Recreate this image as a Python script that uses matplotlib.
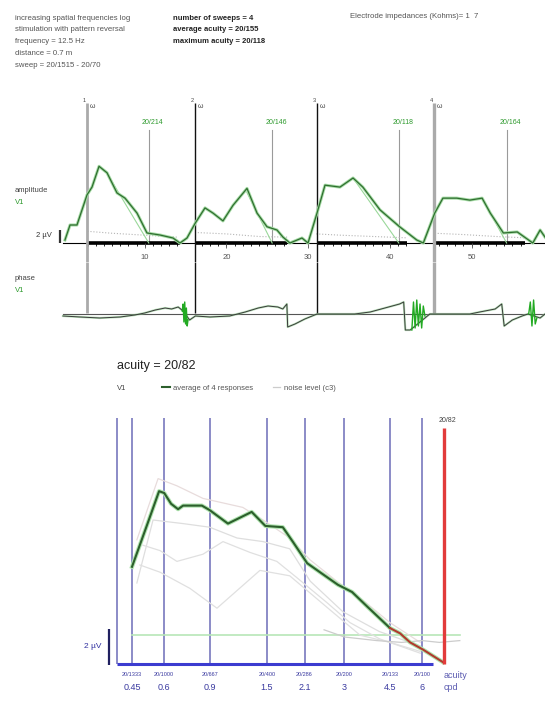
import numpy as np
import matplotlib
matplotlib.use("Agg")
import matplotlib.pyplot as plt

plt.rcParams['font.family'] = ['Liberation Sans', 'DejaVu Sans']

# --- DATA ---
# sweep record (time axis in s, amplitude in uV, phase in arbitrary units)
sweep_starts = [2.94, 16.2, 31.1, 45.4]
sweep_ends = [14.3, 27.4, 42.1, 56.5]
sweep_names = ["1", "2", "3", "4"]
sweep_acuity_pos = [10.5, 25.6, 41.1, 54.3]
sweep_acuity_labels = ["20/214", "20/146", "20/118", "20/164"]
time_ticks = [10, 20, 30, 40, 50]

amp_t = [0.24, 0.86, 1.71, 2.94, 3.55, 4.41, 5.39, 6.61, 7.59, 9.06, 10.28, 11.87,
         13.46, 14.32, 15.18, 16.16, 17.38, 18.36, 19.58, 20.81, 22.52, 23.75, 24.97,
         26.19, 26.93, 27.78, 29.25, 29.99, 31.09, 32.07, 33.9, 35.5, 36.7, 38.8, 41.2,
         43.3, 44.1, 45.5, 46.5, 48.2, 49.8, 51.3, 52.3, 53.9, 55.6, 57.5, 58.4, 59.0]
amp_uv = [0.46, 2.77, 2.77, 7.4, 8.6, 11.8, 10.8, 7.7, 6.9, 4.6, 1.54, 1.23,
          0.77, 0.0, 0.77, 3.0, 5.4, 4.6, 3.4, 5.8, 8.4, 4.6, 2.5,
          2.0, 0.9, 0.0, 0.77, 0.0, 4.6, 8.9, 8.6, 10.0, 8.6, 5.1, 2.5,
          0.46, 0.0, 4.6, 6.9, 6.9, 6.6, 6.9, 4.6, 1.54, 1.7, 0.0, 2.0, 0.9]

fit_t = [5.5, 10.5, np.nan, 22.5, 25.6, np.nan, 35.5, 41.1, np.nan, 51.3, 54.3]
fit_uv = [10.5, 0.0, np.nan, 7.8, 0.0, np.nan, 10.0, 0.0, np.nan, 6.9, 0.0]

amp_noise_t = [3, 6, 10, 14, np.nan, 16.5, 20, 24, 27.5, np.nan, 31, 34, 38, 42, np.nan, 45.5, 49, 53, 56.5]
amp_noise_uv = [1.8, 1.5, 1.2, 0.9, np.nan, 1.6, 1.4, 1.0, 0.9, np.nan, 1.4, 1.2, 1.0, 0.8, np.nan, 1.5, 1.3, 1.0, 0.8]

phase_t = [0, 2.1, 4.5, 7.0, 8.8, 10.0, 11.3, 12.5, 13.3, 14.1, 14.7, 15.5, 16.2, 18.0,
           20.4, 22.3, 23.9, 25.1, 26.3, 26.9, 27.4, 27.5, 28.4, 29.6, 31.1, 33.9, 35.7,
           37.6, 39.4, 41.2, 41.7, 41.9, 42.5, 44.9, 45.4, 49.8, 51.0, 52.9, 53.7, 54.0,
           55.0, 56.2, 56.9, 58.4, 59.0]
phase_val = [-2, -3, -4, -3, -1, 1, 4, 6, 5, 7, 3, -6, -2, -3,
             -2, 2, 6, 8, 7, 5, 10, -13, -10, -5, 0, 0, 0,
             2, 6, 10, 12, -16, -16, 0, 0, 0, 2, 5, 10, -12,
             -6, -2, 0, -4, 0]
spike_t = [14.6, 14.7, 14.8, 14.9, 15.0, 15.1, 15.2, 15.3, np.nan,
           42.7, 42.9, 43.1, 43.3, 43.5, 43.7, 43.9, 44.1, 44.3, np.nan,
           57.0, 57.2, 57.4, 57.6, 57.8, 58.0]
spike_val = [3, 10, -8, 12, -10, 6, -12, -6, np.nan,
             -16, 12, -14, 14, -12, 10, -14, 8, -2, np.nan,
             0, 12, -12, 14, -10, -4]

# acuity plot (spatial frequency in cpd, amplitude in uV)
cpd_ticks = [0.45, 0.6, 0.9, 1.5, 2.1, 3, 4.5, 6]
cpd_labels = ["0.45", "0.6", "0.9", "1.5", "2.1", "3", "4.5", "6"]
snellen_labels = ["20/1333", "20/1000", "20/667", "20/400", "20/286", "20/200", "20/133", "20/100"]
acuity_cpd = 7.32
noise_threshold = 1.6

avg_cpd = [0.45, 0.514, 0.573, 0.60, 0.638, 0.679, 0.71, 0.84, 0.90, 1.06, 1.31, 1.48,
           1.73, 1.89, 2.15, 2.41, 2.83, 3.21, 3.67, 4.5, 4.93, 5.39, 6.05, 7.23]
avg_uv = [5.4, 7.7, 9.6, 9.5, 8.9, 8.6, 8.8, 8.8, 8.55, 7.8, 8.45, 7.67,
          7.6, 6.8, 5.6, 5.1, 4.4, 4.0, 3.2, 2.0, 1.7, 1.2, 0.8, 0.1]

resp_a_cpd = [0.47, 0.568, 0.672, 0.848, 1.21, 1.45, 1.84, 2.2, 2.8, 3.5, 4.5, 5.9]
resp_a_uv = [6.9, 10.3, 9.9, 9.2, 8.7, 8.0, 7.0, 5.8, 4.6, 3.6, 2.3, 1.2]
resp_b_cpd = [0.47, 0.543, 0.71, 0.90, 1.149, 1.45, 1.84, 2.21, 2.96, 4.1, 5.9]
resp_b_uv = [4.5, 8.0, 7.8, 7.6, 7.0, 6.8, 6.4, 4.6, 2.9, 1.8, 1.0]
resp_c_cpd = [0.496, 0.578, 0.672, 0.848, 1.014, 1.29, 1.64, 1.96, 2.57, 3.15, 4.1, 5.9]
resp_c_uv = [6.6, 6.3, 5.7, 6.1, 6.8, 6.2, 5.7, 4.8, 3.4, 2.3, 1.4, 0.6]
resp_d_cpd = [0.483, 0.578, 0.755, 0.961, 1.41, 1.84, 2.64, 3.45, 4.5, 5.9]
resp_d_uv = [5.5, 5.1, 4.2, 3.1, 5.2, 4.9, 3.0, 1.6, 1.2, 0.7]

noise_cpd = [2.5, 3.0, 4.0, 5.0, 6.0, 7.0, 8.4]
noise_uv = [1.9, 1.5, 1.3, 1.2, 1.3, 1.2, 1.3]

# --- LAYOUT HELPERS (pixel based) ---
W, H = 545, 701
fig = plt.figure(figsize=(W / 100, H / 100), dpi=100)
fig.patch.set_facecolor('white')


def fx(px):
    return px / W


def fy(py):
    return 1 - py / H


def px_axes(left, top, right, bottom):
    ax = fig.add_axes([fx(left), fy(bottom), (right - left) / W, (bottom - top) / H])
    ax.set_axis_off()
    ax.patch.set_alpha(0)
    return ax


# time axis: 0 s at px 63, 8.17 px per s
T0, TPX = 63, 8.17
# amplitude: baseline at py 243, 6.5 px per uV
A0, APX = 243, 6.5
# phase: baseline at py 314
P0 = 314

# --- HEADER ---
hdr = dict(fontsize=5.6, color='#555555', va='center')
left_lines = ["increasing spatial frequencies log", "stimulation with pattern reversal",
              "frequency = 12.5 Hz", "distance = 0.7 m", "sweep = 20/1515 - 20/70"]
for i, s in enumerate(left_lines):
    fig.text(fx(15), fy(18 + 11.8 * i), s, **hdr)
mid_lines = ["number of sweeps = 4", "average acuity = 20/155", "maximum acuity = 20/118"]
for i, s in enumerate(mid_lines):
    fig.text(fx(173), fy(18 + 11.8 * i), s, fontsize=5.5, color='#222222',
             fontweight='bold', va='center')
fig.text(fx(350), fy(17), "Electrode impedances (Kohms)= 1  7", **hdr)

# --- AMPLITUDE PANEL ---
ax_a = px_axes(0, 95, W, 262)
ax_a.set_xlim(-T0 / TPX, (W - T0) / TPX)
ax_a.set_ylim((A0 - 262) / APX, (A0 - 95) / APX)

ax_a.axhline(0, color='black', lw=0.8, xmin=(T0 / W), zorder=2)
for s, e in zip(sweep_starts, sweep_ends):
    ax_a.plot([s, e], [0, 0], color='black', lw=2.6, solid_capstyle='butt', zorder=2)
    ticks = np.arange(np.ceil(s), e)
    ax_a.vlines(ticks, -0.45, 0, color='black', lw=0.6, zorder=2)
for t in time_ticks:
    ax_a.vlines(t, -0.8, 0, color='#555555', lw=0.6)
    ax_a.text(t, -2.2, str(t), fontsize=5.5, color='#555555', ha='center', va='center')

sweep_colors = ['#aaaaaa', '#111111', '#111111', '#aaaaaa']
sweep_widths = [2.0, 1.0, 1.0, 2.4]
for s, c, w, name in zip(sweep_starts, sweep_colors, sweep_widths, sweep_names):
    ax_a.plot([s, s], [ax_a.get_ylim()[0], (A0 - 103) / APX], color=c, lw=w, zorder=3,
              solid_capstyle='butt')
    ax_a.text(s - 0.15, (A0 - 100) / APX, name, fontsize=4, color='#444444',
              ha='right', va='center')
    ax_a.text(s + 0.35, (A0 - 107) / APX, "\u03c9", fontsize=5, color='#444444',
              ha='left', va='center')

for pos, lab in zip(sweep_acuity_pos, sweep_acuity_labels):
    ax_a.plot([pos, pos], [0, (A0 - 130) / APX], color='#9a9a9a', lw=0.8, zorder=1)
    ax_a.text(pos + 0.5, (A0 - 122) / APX, lab, fontsize=5, color='#2e9a2e',
              ha='center', va='center')

ax_a.plot(amp_noise_t, amp_noise_uv, color='#b5b5b5', lw=0.8, ls=':', zorder=2)
ax_a.plot(fit_t, fit_uv, color='#9ad89a', lw=0.8, zorder=3)
ax_a.plot(amp_t, amp_uv, color='#a6dca6', lw=2.2, zorder=4)
ax_a.plot(amp_t, amp_uv, color='#2f6e2f', lw=0.9, zorder=5)

ax_a.plot([-0.4, -0.4], [0, 2], color='#333333', lw=1.6, solid_capstyle='butt')
ax_a.text(-1.4, 1.1, "2 \u00b5V", fontsize=5.5, color='#333333', ha='right', va='center')

fig.text(fx(15), fy(190), "amplitude", fontsize=5.5, color='#444444', va='center')
fig.text(fx(15), fy(202), "V1", fontsize=5.5, color='#2e9a2e', va='center')

# --- PHASE PANEL ---
ax_p = px_axes(0, 262, W, 345)
ax_p.set_xlim(ax_a.get_xlim())
ax_p.set_ylim(P0 - 345, P0 - 262)
ax_p.axhline(0, color='#555555', lw=0.8, xmin=(T0 / W))
for s, c, w in zip(sweep_starts, sweep_colors, sweep_widths):
    ax_p.plot([s, s], [1, ax_p.get_ylim()[1]], color=c, lw=w, solid_capstyle='butt')
ax_p.plot(phase_t, phase_val, color='#8fd08f', lw=1.6, alpha=0.6)
ax_p.plot(phase_t, phase_val, color='#3a3a3a', lw=0.7)
ax_p.plot(spike_t, spike_val, color='#22aa22', lw=1.0)
fig.text(fx(15), fy(278), "phase", fontsize=5.5, color='#444444', va='center')
fig.text(fx(15), fy(290), "V1", fontsize=5.5, color='#2e9a2e', va='center')

# --- ACUITY PANEL ---
# log frequency axis: 0.45 cpd at px 132, 112 px per ln unit; baseline py 664, 18 px per uV
C0, CPX = 132, 112.0
B0, BPX = 664, 18.0


def cpd_at(px):
    return 0.45 * np.exp((px - C0) / CPX)


ax_b = px_axes(80, 410, 490, 700)
ax_b.set_xscale('log')
ax_b.set_xlim(cpd_at(80), cpd_at(490))
ax_b.set_ylim((B0 - 700) / BPX, (B0 - 410) / BPX)

blue_lines = [cpd_at(117)] + cpd_ticks
ax_b.vlines(blue_lines, 0, (B0 - 418) / BPX, color='#6c6cb8', lw=1.1, zorder=1)
ax_b.plot([cpd_at(117), cpd_at(433)], [0, 0], color='#3c3cd0', lw=2.2, zorder=2,
          solid_capstyle='butt')
ax_b.plot([cpd_at(132), cpd_at(460)], [noise_threshold, noise_threshold],
          color='#b8e6b8', lw=1.2, zorder=1)

for xs, ys, c in [(resp_a_cpd, resp_a_uv, '#e8dcdc'), (resp_b_cpd, resp_b_uv, '#dedede'),
                  (resp_c_cpd, resp_c_uv, '#e0e0e0'), (resp_d_cpd, resp_d_uv, '#e0e0e0')]:
    ax_b.plot(xs, ys, color=c, lw=0.9, zorder=2)
noise_line, = ax_b.plot(noise_cpd, noise_uv, color='#cccccc', lw=0.9, zorder=2)

avg_cpd_arr = np.array(avg_cpd)
avg_uv_arr = np.array(avg_uv)
green_part = avg_cpd_arr <= 4.5
red_part = avg_cpd_arr >= 4.5
ax_b.plot(avg_cpd_arr, avg_uv_arr, color='#b0e4b0', lw=3.0, zorder=3)
avg_line, = ax_b.plot(avg_cpd_arr[green_part], avg_uv_arr[green_part], color='#2c5f2c',
                      lw=1.5, zorder=4)
ax_b.plot(avg_cpd_arr[red_part], avg_uv_arr[red_part], color='#b03a2e', lw=1.5, zorder=4)

ax_b.plot([acuity_cpd, acuity_cpd], [0, (B0 - 428) / BPX], color='#e23b3b', lw=2.4, zorder=5,
          solid_capstyle='butt')
ax_b.text(acuity_cpd * 1.03, (B0 - 421) / BPX, "20/82", fontsize=5, color='#444444',
          ha='center', va='center')

ax_b.plot([cpd_at(109), cpd_at(109)], [-0.05, 1.95], color='#202060', lw=1.6,
          solid_capstyle='butt')
ax_b.text(cpd_at(101), 1.0, "2 \u00b5V", fontsize=6, color='#3030a0', ha='right', va='center')

for c, sl, cl in zip(cpd_ticks, snellen_labels, cpd_labels):
    ax_b.text(c, (B0 - 675) / BPX, sl, fontsize=4, color='#3a3aa0', ha='center', va='center')
    ax_b.text(c, (B0 - 688) / BPX, cl, fontsize=6.5, color='#3a3aa0', ha='center', va='center')
ax_b.text(cpd_at(444), (B0 - 676) / BPX, "acuity", fontsize=6.5, color='#5a5ab0',
          ha='left', va='center')
ax_b.text(cpd_at(444), (B0 - 688) / BPX, "cpd", fontsize=6.5, color='#5a5ab0',
          ha='left', va='center')

fig.text(fx(117), fy(366), "acuity = 20/82", fontsize=9, color='#222222', va='center')
fig.text(fx(117), fy(388), "V1", fontsize=5.5, color='#444444', va='center')
fig.legend(handles=[avg_line, noise_line],
           labels=["average of 4 responses", "noise level (c3)"],
           loc='center left', bbox_to_anchor=(fx(155), fy(388)), ncol=2, frameon=False,
           fontsize=5.5, handlelength=1.0, handletextpad=0.5, columnspacing=2.5,
           labelcolor='#555555')

fig.savefig("out.png", dpi=100)
plt.close(fig)
